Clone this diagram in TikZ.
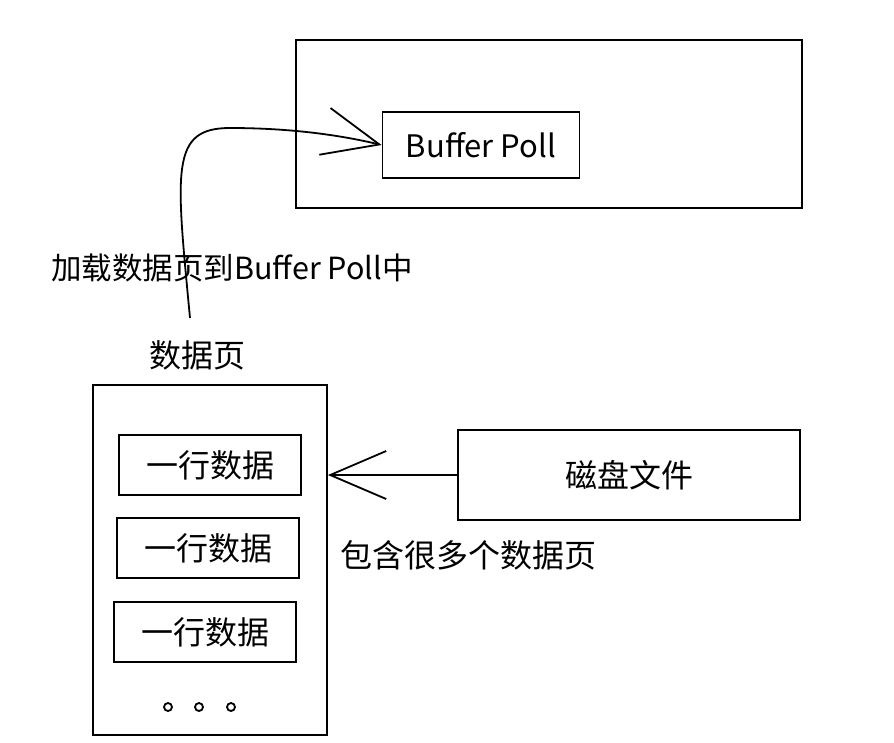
\documentclass[tikz,border=0pt]{standalone}
\usepackage{fontspec}
\setmainfont{Noto Sans CJK SC}
\usetikzlibrary{arrows.meta}

\tikzset{
  sketchbox/.style={rectangle, draw, line width=1.8pt, inner sep=0pt},
  rowbox/.style={sketchbox, minimum width=182pt, minimum height=60pt, font=\fontsize{32}{34}\selectfont},
  sketcharrow/.style={line width=1.8pt, -{Straight Barb[length=56pt,width=48pt,line width=1.8pt]}},
  label/.style={font=\fontsize{32}{34}\selectfont, inner sep=0pt}
}

\begin{document}
\begin{tikzpicture}[x=1pt, y=-1pt]
\useasboundingbox (0,0) rectangle (894,742);
% buffer pool area
\node[sketchbox, minimum width=506pt, minimum height=168pt] (poolarea) at (549,124) {};
\node[sketchbox, minimum width=197pt, minimum height=66pt, font=\fontsize{31}{33}\selectfont] (bufpool) at (481,145) {Buffer Poll};
% data page
\node[sketchbox, minimum width=234pt, minimum height=350pt] (page) at (210,560) {};
\node[label] (pagetitle) at (197,355) {数据页};
\node[rowbox] (rowa) at (210,465) {一行数据};
\node[rowbox] (rowb) at (208,548) {一行数据};
\node[rowbox] (rowc) at (205,632) {一行数据};
\foreach \x in {168,199,231}
  \draw[line width=1.8pt] (\x,707) circle (4pt);
% disk file
\node[sketchbox, minimum width=342pt, minimum height=90pt, font=\fontsize{32}{34}\selectfont] (disk) at (629,475) {磁盘文件};
\node[label] (contains) at (468,555) {包含很多个数据页};
\node[label, font=\fontsize{30.5}{32}\selectfont] (loadtext) at (232,268) {加载数据页到Buffer Poll中};
% arrows
\coordinate (loadstart) at (190,318);
\draw[sketcharrow] (loadstart) .. controls (176,170) and (170,128) .. (230,128) .. controls (290,128) and (340,135) .. (bufpool.west);
\draw[sketcharrow] (disk.west) -- (page.east |- disk.west);
\end{tikzpicture}
\end{document}
